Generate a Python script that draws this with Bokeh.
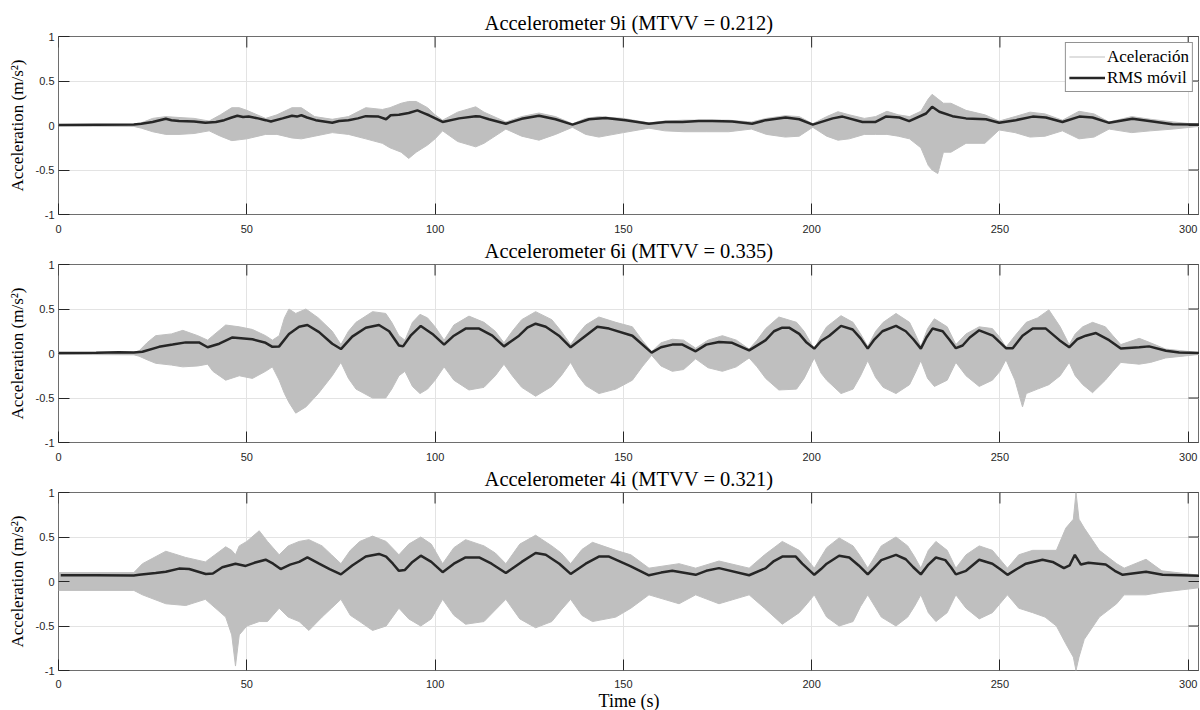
from bokeh.plotting import figure
from bokeh.models import Range1d, FixedTicker, Legend, LegendItem, Spacer
from bokeh.layouts import column, row
from bokeh.embed import file_html
from bokeh.resources import INLINE
import math

# ---------------- data ----------------
x_ticks = [0, 50, 100, 150, 200, 250, 300]
y_ticks = [-1, -0.5, 0, 0.5, 1]
y_tick_labels = {-1: "-1", -0.5: "-0.5", 0: "0", 0.5: "0.5", 1: "1"}

titles = ["Accelerometer 9i (MTVV = 0.212)",
          "Accelerometer 6i (MTVV = 0.335)",
          "Accelerometer 4i (MTVV = 0.321)"]

# Panel 1 (9i) moving RMS
t_rms1 = [0, 10, 20, 22, 25, 28.5, 30, 32, 36, 39, 41.8, 44, 46, 47.5, 49, 50.5, 53, 55, 56.4, 59.5,
          62, 63.3, 64.5, 66, 68.3, 72.7, 74.5, 77, 79.5, 81.6, 85, 87, 88.2, 90.4, 93, 95.3, 97, 98.4,
          102, 106.4, 110.8, 112, 114.3, 118.8, 123, 127.6, 132, 136.5, 140.9, 145.3, 150.6, 156.8,
          161.2, 165.7, 170, 173.6, 178.9, 184.2, 187.8, 193.1, 196.7, 200.3, 205.6, 208.2, 213.5, 217,
          219.7, 223.3, 225.9, 230.4, 232, 233.9, 237.4, 241, 246.3, 249.8, 254.2, 258.7, 262.2, 266.6,
          271.1, 274.6, 279, 285.2, 289.6, 295.8, 303]
rms1 = [0.005, 0.008, 0.01, 0.02, 0.04, 0.075, 0.06, 0.05, 0.045, 0.03, 0.04, 0.06, 0.09, 0.11, 0.095, 0.1,
        0.08, 0.06, 0.045, 0.08, 0.11, 0.1, 0.115, 0.09, 0.06, 0.03, 0.05, 0.06, 0.08, 0.105, 0.1, 0.07,
        0.115, 0.12, 0.14, 0.17, 0.14, 0.115, 0.04, 0.08, 0.105, 0.1, 0.07, 0.02, 0.075, 0.11, 0.07, 0.01,
        0.07, 0.085, 0.06, 0.02, 0.04, 0.04, 0.05, 0.05, 0.045, 0.02, 0.06, 0.09, 0.07, 0.01, 0.08, 0.1,
        0.04, 0.04, 0.1, 0.09, 0.05, 0.135, 0.21, 0.155, 0.105, 0.08, 0.07, 0.03, 0.06, 0.1, 0.09, 0.04,
        0.1, 0.09, 0.03, 0.075, 0.05, 0.015, 0.01]
# Panel 1 acceleration envelope: (time, upper, lower)
env1 = [(0, 0.005, -0.005), (20, 0.01, -0.01), (22, 0.03, -0.03), (25, 0.08, -0.07), (28.5, 0.1, -0.1),
        (32, 0.09, -0.1), (36, 0.08, -0.09), (40, 0.05, -0.06), (43, 0.12, -0.12), (46, 0.2, -0.17),
        (48, 0.2, -0.16), (50, 0.17, -0.15), (55, 0.08, -0.1), (58, 0.12, -0.1), (62, 0.2, -0.14),
        (64.5, 0.2, -0.15), (68, 0.1, -0.12), (72.7, 0.07, -0.08), (77, 0.1, -0.1), (81.6, 0.2, -0.15),
        (86, 0.18, -0.2), (88, 0.2, -0.25), (91, 0.25, -0.3), (93, 0.27, -0.37), (95, 0.27, -0.3),
        (98, 0.2, -0.22), (100, 0.12, -0.15), (102, 0.06, -0.06), (106, 0.15, -0.18), (110.8, 0.21, -0.24),
        (113, 0.15, -0.2), (118.8, 0.04, -0.04), (123, 0.1, -0.12), (127.6, 0.14, -0.165), (132, 0.1, -0.1),
        (136.5, 0.02, -0.02), (140, 0.08, -0.1), (143.5, 0.1, -0.13), (150, 0.08, -0.08), (156.8, 0.03, -0.03),
        (161, 0.05, -0.06), (166, 0.06, -0.07), (172, 0.06, -0.07), (178, 0.06, -0.07), (184, 0.04, -0.04),
        (188, 0.08, -0.1), (193, 0.11, -0.13), (196.7, 0.1, -0.12), (200.3, 0.02, -0.02), (204, 0.1, -0.12),
        (207, 0.155, -0.165), (210, 0.12, -0.15), (214, 0.08, -0.1), (217, 0.1, -0.1), (220, 0.16, -0.1),
        (223, 0.12, -0.12), (226, 0.1, -0.15), (229, 0.16, -0.25), (231, 0.3, -0.45), (232, 0.35, -0.5),
        (233.5, 0.3, -0.54), (235, 0.25, -0.3), (237, 0.25, -0.3), (241, 0.17, -0.2), (246, 0.12, -0.2),
        (249.8, 0.05, -0.05), (254, 0.1, -0.08), (258, 0.15, -0.13), (262, 0.13, -0.12), (266.6, 0.06, -0.06),
        (271, 0.16, -0.15), (275, 0.13, -0.13), (279, 0.04, -0.04), (285, 0.1, -0.08), (290, 0.07, -0.06),
        (296, 0.04, -0.04), (303, 0.01, -0.01)]

# Panel 2 (6i) moving RMS
t_rms2 = [0, 10, 16, 20, 22.3, 26.7, 30.3, 33.8, 37.3, 39.6, 42.7, 46.2, 51.5, 55, 56.8, 58.6, 61.2, 63.9,
          66.1, 69.2, 72.7, 75, 78, 81.6, 85.1, 87.8, 90.4, 91.5, 93.5, 96.2, 99.3, 102.4, 105, 108.1, 111.7,
          115.2, 118.3, 122.3, 124.5, 126.7, 129.4, 132.9, 136, 140, 143.1, 146.2, 152.4, 157.5, 160, 163,
          165.7, 169.2, 172, 175.4, 178.9, 183.4, 187.8, 190, 192.2, 194, 196.7, 198.5, 200.7, 202.5, 204.7,
          207.8, 210.9, 213, 214.9, 216.5, 218.8, 222.4, 225, 227, 229, 230.5, 232.1, 234.8, 236.5, 238.3,
          240.1, 242, 244.5, 248.1, 251.6, 253.4, 256, 258.7, 262.2, 265.8, 268.4, 270.5, 272.8, 275.5, 279,
          282.1, 287, 289.6, 294.1, 297.6, 303]
rms2 = [0.005, 0.008, 0.015, 0.012, 0.02, 0.075, 0.1, 0.125, 0.125, 0.07, 0.11, 0.18, 0.16, 0.12, 0.075,
        0.08, 0.22, 0.3, 0.32, 0.24, 0.11, 0.05, 0.19, 0.29, 0.32, 0.25, 0.09, 0.08, 0.2, 0.31, 0.22, 0.1,
        0.2, 0.28, 0.28, 0.2, 0.08, 0.2, 0.29, 0.335, 0.3, 0.2, 0.07, 0.2, 0.3, 0.28, 0.2, 0.01, 0.07, 0.1,
        0.1, 0.025, 0.1, 0.13, 0.12, 0.035, 0.15, 0.25, 0.29, 0.29, 0.22, 0.13, 0.055, 0.14, 0.2, 0.31, 0.27,
        0.17, 0.055, 0.15, 0.25, 0.31, 0.25, 0.16, 0.055, 0.18, 0.28, 0.25, 0.16, 0.06, 0.09, 0.18, 0.26,
        0.2, 0.06, 0.06, 0.2, 0.28, 0.28, 0.15, 0.07, 0.16, 0.2, 0.23, 0.15, 0.055, 0.07, 0.08, 0.03, 0.01,
        0.005]
# Panel 2 acceleration envelope: (time, upper, lower)
env2 = [(0, 0.01, -0.01), (20, 0.015, -0.015), (21.4, 0.03, -0.03), (23.5, 0.12, -0.07), (25.8, 0.2, -0.11),
        (30, 0.22, -0.13), (33, 0.26, -0.15), (37, 0.2, -0.14), (39.6, 0.15, -0.12), (41, 0.2, -0.2),
        (44.4, 0.32, -0.3), (48, 0.3, -0.25), (51.5, 0.27, -0.28), (55, 0.2, -0.2), (56.8, 0.15, -0.15),
        (58.6, 0.2, -0.3), (60, 0.4, -0.45), (61.2, 0.5, -0.55), (63, 0.45, -0.67), (65.7, 0.5, -0.6),
        (69, 0.4, -0.45), (72.7, 0.25, -0.25), (75, 0.1, -0.1), (77, 0.25, -0.28), (79, 0.35, -0.4),
        (83.4, 0.47, -0.5), (86.9, 0.45, -0.5), (88.5, 0.35, -0.4), (90.4, 0.2, -0.25), (92, 0.15, -0.2),
        (94, 0.35, -0.37), (96, 0.44, -0.45), (98, 0.4, -0.4), (100, 0.3, -0.3), (102.4, 0.15, -0.15),
        (105, 0.32, -0.3), (109, 0.42, -0.41), (113, 0.35, -0.38), (116, 0.25, -0.25), (118.3, 0.12, -0.12),
        (120.5, 0.25, -0.25), (123, 0.38, -0.38), (126.7, 0.47, -0.48), (131, 0.38, -0.37),
        (133.5, 0.25, -0.25), (136, 0.1, -0.1), (138, 0.22, -0.25), (140, 0.32, -0.36), (143.5, 0.41, -0.45),
        (148, 0.35, -0.4), (152.4, 0.3, -0.3), (155, 0.15, -0.15), (157.5, 0.02, -0.02), (160, 0.12, -0.14),
        (163, 0.16, -0.2), (166, 0.15, -0.18), (169.2, 0.06, -0.06), (172.5, 0.15, -0.16), (176.3, 0.2, -0.2),
        (180, 0.15, -0.15), (183.4, 0.05, -0.05), (185.5, 0.15, -0.15), (187.8, 0.28, -0.28),
        (191.3, 0.41, -0.41), (196, 0.35, -0.4), (198, 0.25, -0.28), (200.7, 0.05, -0.05), (202.5, 0.2, -0.22),
        (204, 0.3, -0.3), (207.8, 0.425, -0.45), (211, 0.35, -0.4), (213, 0.22, -0.25), (214.9, 0.08, -0.08),
        (217, 0.25, -0.27), (219, 0.35, -0.38), (222.4, 0.45, -0.45), (226, 0.35, -0.35), (227.5, 0.22, -0.22),
        (229, 0.08, -0.08), (230.8, 0.28, -0.28), (232.6, 0.39, -0.37), (236, 0.3, -0.3), (238.3, 0.1, -0.1),
        (241, 0.22, -0.25), (244.5, 0.3, -0.37), (248, 0.28, -0.3), (250, 0.18, -0.2), (251.6, 0.07, -0.07),
        (254, 0.2, -0.3), (256, 0.3, -0.6), (257, 0.35, -0.45), (260, 0.4, -0.4), (263, 0.49, -0.35),
        (266, 0.3, -0.25), (268.4, 0.1, -0.1), (270, 0.22, -0.25), (272, 0.3, -0.35), (274.6, 0.35, -0.44),
        (278, 0.3, -0.3), (280, 0.2, -0.2), (282.1, 0.1, -0.1), (287, 0.17, -0.12), (290, 0.12, -0.1),
        (294, 0.05, -0.05), (303, 0.01, -0.01)]

# Panel 3 (4i) moving RMS
t_rms3 = [0.6, 10, 20, 21.4, 25.8, 28.5, 32, 34.7, 39.1, 41, 43.5, 47, 49.7, 52, 55, 57, 59, 61.5, 63.9,
          66.1, 69.2, 72, 75, 78, 81.6, 85.1, 87, 88.8, 90.4, 92, 94, 96.2, 99, 102, 105, 108.1, 111.7, 115,
          118.8, 123, 126.7, 129.4, 133, 136, 140, 143.5, 146.2, 152, 156.8, 160, 163, 169.2, 172, 175.4,
          183.4, 187.8, 190, 192.2, 195.8, 197.5, 200.7, 202.5, 204, 207.3, 210, 212.5, 214.9, 216.5, 218.5,
          222.4, 225, 227, 229, 231, 233, 235.5, 237, 238.3, 241, 244.5, 248, 250, 252, 254.5, 256.9, 261.3,
          264, 267, 268.5, 269.9, 271.5, 273.5, 278.1, 280.5, 282.6, 288.8, 293.2, 303]
rms3 = [0.07, 0.07, 0.068, 0.075, 0.095, 0.11, 0.145, 0.14, 0.085, 0.09, 0.16, 0.2, 0.175, 0.21, 0.245,
        0.2, 0.14, 0.19, 0.22, 0.27, 0.2, 0.14, 0.08, 0.18, 0.28, 0.31, 0.28, 0.2, 0.12, 0.13, 0.22, 0.29,
        0.22, 0.105, 0.2, 0.27, 0.27, 0.2, 0.095, 0.22, 0.32, 0.3, 0.2, 0.085, 0.2, 0.28, 0.28, 0.17, 0.07,
        0.1, 0.12, 0.075, 0.12, 0.15, 0.07, 0.15, 0.23, 0.28, 0.28, 0.2, 0.075, 0.14, 0.2, 0.29, 0.27, 0.18,
        0.08, 0.15, 0.24, 0.3, 0.25, 0.16, 0.08, 0.19, 0.27, 0.24, 0.16, 0.08, 0.12, 0.245, 0.2, 0.14, 0.075,
        0.14, 0.2, 0.245, 0.22, 0.15, 0.18, 0.3, 0.19, 0.21, 0.19, 0.12, 0.075, 0.11, 0.075, 0.065]
# Panel 3 acceleration envelope: (time, upper, lower)
env3 = [(0, 0.1, -0.1), (20, 0.1, -0.1), (22.3, 0.2, -0.15), (28.5, 0.34, -0.25), (33.8, 0.27, -0.27),
        (39, 0.22, -0.2), (44.4, 0.39, -0.4), (46, 0.35, -0.6), (47, 0.3, -0.95), (48, 0.4, -0.6),
        (50, 0.45, -0.5), (53.3, 0.57, -0.45), (55.5, 0.45, -0.45), (58.6, 0.3, -0.3), (61, 0.4, -0.4),
        (63.9, 0.45, -0.45), (66.5, 0.47, -0.55), (70, 0.4, -0.4), (72.5, 0.3, -0.3), (75, 0.2, -0.2),
        (77.5, 0.35, -0.38), (80, 0.45, -0.45), (83.4, 0.51, -0.55), (87, 0.45, -0.5), (90.4, 0.3, -0.3),
        (93, 0.42, -0.42), (96.2, 0.5, -0.5), (99, 0.42, -0.42), (102, 0.2, -0.2), (105, 0.38, -0.38),
        (108.1, 0.47, -0.48), (113, 0.4, -0.45), (116, 0.32, -0.32), (118.8, 0.2, -0.2), (122.5, 0.42, -0.42),
        (126.7, 0.52, -0.52), (131, 0.4, -0.45), (133.5, 0.32, -0.32), (136, 0.2, -0.2), (139, 0.36, -0.38),
        (141.8, 0.44, -0.45), (148, 0.35, -0.4), (152, 0.3, -0.3), (156.8, 0.15, -0.15), (164.8, 0.2, -0.25),
        (169.2, 0.15, -0.15), (175.4, 0.23, -0.25), (183.4, 0.15, -0.15), (187.5, 0.3, -0.3),
        (192.2, 0.45, -0.48), (196.7, 0.35, -0.35), (198.8, 0.25, -0.25), (200.7, 0.15, -0.15),
        (204, 0.38, -0.4), (207.3, 0.49, -0.5), (211, 0.4, -0.45), (213, 0.28, -0.28), (214.9, 0.15, -0.15),
        (218.5, 0.4, -0.4), (222.4, 0.5, -0.5), (225.5, 0.4, -0.4), (227.3, 0.28, -0.28), (229, 0.15, -0.15),
        (231, 0.35, -0.35), (233, 0.45, -0.45), (236, 0.35, -0.35), (238.3, 0.15, -0.15), (241, 0.3, -0.3),
        (244.5, 0.4, -0.42), (248, 0.35, -0.35), (250, 0.25, -0.25), (252, 0.15, -0.15), (255, 0.3, -0.3),
        (258.7, 0.35, -0.35), (262, 0.35, -0.4), (265, 0.35, -0.5), (267.5, 0.6, -0.7), (269.5, 0.7, -0.85),
        (270.2, 1.0, -1.0), (271, 0.7, -0.85), (272.4, 0.6, -0.65), (276.4, 0.35, -0.4), (281, 0.2, -0.25),
        (283, 0.15, -0.15), (288.8, 0.25, -0.15), (293, 0.12, -0.12), (303, 0.07, -0.07)]

assert len(t_rms1) == len(rms1) and len(t_rms2) == len(rms2) and len(t_rms3) == len(rms3)

panels = [
    (titles[0], t_rms1, rms1, env1),
    (titles[1], t_rms2, rms2, env2),
    (titles[2], t_rms3, rms3, env3),
]

# ---------------- styling ----------------
SERIF = "Liberation Serif"
SANS = "Liberation Sans"
GRAY = "#bfbfbf"
DARK = "#262626"
BOX = "#6e6e6e"
GRID = "#e3e3e3"
x_label_standoffs = [10, 10, 9]

rows = [Spacer(width=10, height=7)]
for i, (title, tr, rv, env) in enumerate(panels):
    te = [r[0] for r in env]
    up = [r[1] for r in env]
    lo = [r[2] for r in env]
    p = figure(frame_width=1141, frame_height=178,
               x_range=Range1d(0, 303), y_range=Range1d(-1, 1),
               output_backend="svg", toolbar_location=None,
               min_border_left=0, min_border_right=0,
               min_border_top=0, min_border_bottom=0)
    p.title.text = title
    p.title.align = "center"
    p.title.text_font = SERIF
    p.title.text_font_size = "20.5px"
    p.title.text_font_style = "normal"
    p.title.text_color = "#000000"
    p.title.standoff = 5
    p.outline_line_color = BOX
    p.outline_line_width = 1
    p.background_fill_color = "white"
    p.border_fill_color = "white"

    # axes
    p.xaxis.ticker = FixedTicker(ticks=x_ticks)
    p.yaxis.ticker = FixedTicker(ticks=y_ticks)
    p.yaxis.major_label_overrides = y_tick_labels
    for ax in (p.xaxis[0], p.yaxis[0]):
        ax.axis_line_color = None
        ax.major_tick_in = 11
        ax.major_tick_out = 0
        ax.major_tick_line_color = DARK
        ax.minor_tick_line_color = None
        ax.major_label_text_font = SANS
        ax.major_label_text_font_size = "11px"
        ax.major_label_text_color = DARK
        ax.axis_label_text_font = SERIF
        ax.axis_label_text_font_size = "17px"
        ax.axis_label_text_font_style = "normal"
        ax.axis_label_text_color = "#000000"
    p.xaxis.major_label_standoff = x_label_standoffs[i]
    p.yaxis.major_label_standoff = 4
    p.yaxis.axis_label = "Acceleration (m/s²)"
    p.yaxis.axis_label_standoff = 6
    if i == 2:
        p.xaxis.axis_label = "Time (s)"
        p.xaxis.axis_label_text_font_size = "18px"
        p.xaxis.axis_label_standoff = 0

    p.xgrid.ticker = FixedTicker(ticks=x_ticks)
    p.ygrid.ticker = FixedTicker(ticks=y_ticks)
    for g in (p.xgrid[0], p.ygrid[0]):
        g.grid_line_color = GRID
        g.grid_line_width = 1

    # data
    p.varea(x=te, y1=lo, y2=up, fill_color=GRAY, fill_alpha=1.0)
    acc_line = p.line(te, up, line_color=GRAY, line_width=1)
    p.line(te, lo, line_color=GRAY, line_width=1)
    rms_line = p.line(tr, rv, line_color=DARK, line_width=2.5)

    # inward tick marks on the top and right edges (half of each dash is clipped by the frame)
    p.scatter(x=x_ticks, y=[y_ticks[-1]] * len(x_ticks), marker="dash", angle=math.pi / 2,
              size=22, line_color=DARK, line_width=1)
    p.scatter(x=[303] * len(y_ticks), y=y_ticks, marker="dash", size=22, line_color=DARK, line_width=1)

    if i == 0:
        legend = Legend(items=[LegendItem(label="Aceleración", renderers=[acc_line]),
                               LegendItem(label="RMS móvil", renderers=[rms_line])],
                        location="top_right")
        legend.margin = 6
        legend.padding = 3
        legend.spacing = 0
        legend.border_line_color = DARK
        legend.border_line_width = 0.8
        legend.background_fill_color = "white"
        legend.background_fill_alpha = 1.0
        legend.label_text_font = SERIF
        legend.label_text_font_size = "17px"
        legend.label_text_color = "#000000"
        legend.glyph_width = 36
        legend.glyph_height = 21
        legend.label_height = 21
        legend.label_standoff = 2
        p.add_layout(legend, "center")
    rows.append(row(Spacer(width=4, height=10), p, spacing=0))

layout = column(*rows, spacing=0)
open("out.html", "w").write(file_html(layout, INLINE))
